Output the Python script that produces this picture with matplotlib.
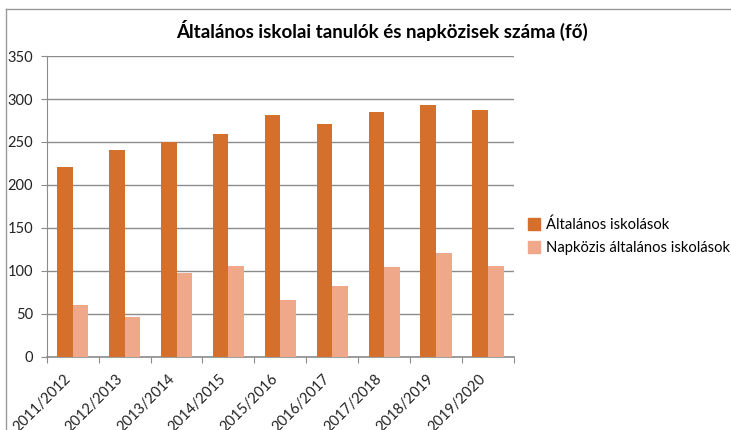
import matplotlib.pyplot as plt
import numpy as np
from matplotlib.lines import Line2D

# school years and head counts (fő)
evek = ["2011/2012", "2012/2013", "2013/2014", "2014/2015", "2015/2016",
        "2016/2017", "2017/2018", "2018/2019", "2019/2020"]
altalanos = [221, 241, 250, 259, 281, 271, 285, 293, 287]
napkozis = [60, 46, 97, 106, 66, 82, 104, 121, 106]

plt.rcParams['font.family'] = ['Lato', 'DejaVu Sans']

c1 = "#D4702C"
c2 = "#F0A88B"
grid_c = "#8C8C8C"

fig = plt.figure(figsize=(7.31, 4.30), dpi=100)
ax = fig.add_axes([0.064, 0.1705, 0.639, 0.699])

x = np.arange(len(evek))
w = 0.3
ax.bar(x - w/2, altalanos, w, color=c1, label="Általános iskolások", zorder=3)
ax.bar(x + w/2, napkozis, w, color=c2, label="Napközis általános iskolások", zorder=3)

ax.set_xlim(-0.5, len(evek) - 0.5)
ax.set_ylim(0, 350)
ax.set_yticks(range(0, 351, 50))
ax.yaxis.grid(True, color=grid_c, linewidth=1)
ax.set_axisbelow(True)

for s in ["top", "right"]:
    ax.spines[s].set_visible(False)
ax.spines["left"].set_color(grid_c)
ax.spines["bottom"].set_color(grid_c)
ax.spines["bottom"].set_linewidth(1.2)

# category ticks sit on the boundaries, labels are placed by hand
ax.set_xticks(np.arange(-0.5, len(evek), 1.0))
ax.set_xticklabels([])
ax.tick_params(axis="x", direction="out", length=4, color=grid_c)
ax.tick_params(axis="y", direction="out", length=4, color=grid_c,
               labelsize=10.5, pad=6)
for lab in ax.get_yticklabels():
    lab.set_color("#222222")

for i, e in enumerate(evek):
    ax.text(i - 0.18, -18, e, rotation=45, ha="right", va="top",
            fontsize=10.5, color="#222222",
            transform=ax.transData, rotation_mode="anchor", clip_on=False)

fig.text(0.522, 0.928, "Általános iskolai tanulók és napközisek száma (fő)",
         ha="center", va="center", fontsize=13.5, fontweight="bold")

handles = [Line2D([], [], marker="s", linestyle="none", markersize=8,
                  markerfacecolor=c1, markeredgecolor=c1),
           Line2D([], [], marker="s", linestyle="none", markersize=8,
                  markerfacecolor=c2, markeredgecolor=c2)]
fig.legend(handles, ["Általános iskolások", "Napközis általános iskolások"],
           loc="upper left", bbox_to_anchor=(0.704, 0.525), frameon=False,
           fontsize=10.6, handlelength=0.8, handletextpad=0.4, labelspacing=0.6)

# chart frame edges visible in the crop
fig.add_artist(Line2D([0.008, 0.008], [0, 0.98], color="#999999", linewidth=1))
fig.add_artist(Line2D([0.008, 1], [0.98, 0.98], color="#999999", linewidth=1))

plt.savefig("out.png", dpi=100)
plt.close()
